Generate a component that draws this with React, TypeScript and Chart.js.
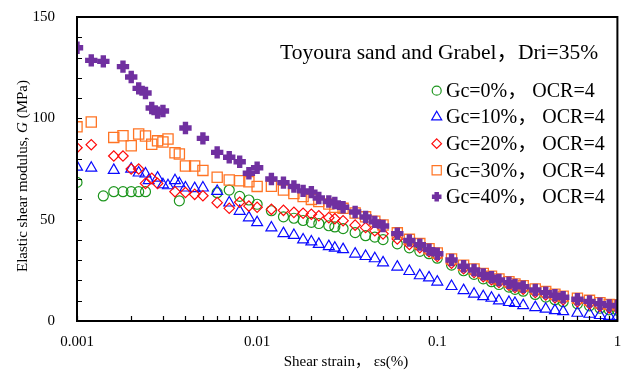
import { useEffect, useRef } from 'react';
import { Chart, registerables } from 'chart.js';

Chart.register(...registerables);

// Shear strain (%) and elastic shear modulus G (MPa) for each gravel content
const strainGc0 = [0.001, 0.0014, 0.0016, 0.0018, 0.002, 0.0022, 0.0024, 0.0037, 0.006, 0.007, 0.008, 0.009, 0.01, 0.012, 0.014, 0.016, 0.018, 0.02, 0.022, 0.025, 0.027, 0.03, 0.035, 0.04, 0.045, 0.05, 0.06, 0.07, 0.08, 0.09, 0.1, 0.12, 0.14, 0.16, 0.18, 0.2, 0.22, 0.25, 0.27, 0.3, 0.35, 0.4, 0.45, 0.5, 0.6, 0.7, 0.8, 0.9, 1.0];
const modulusGc0 = [68.4, 61.7, 63.8, 63.8, 63.8, 63.8, 63.8, 59.3, 63.3, 64.6, 61.5, 59.7, 57.6, 54.4, 51.4, 50.7, 49.6, 48.7, 48.1, 47.0, 46.4, 45.6, 43.6, 42.1, 41.4, 40.2, 38.1, 36.1, 34.4, 33.2, 31.0, 27.6, 24.8, 23.0, 20.8, 19.4, 18.0, 16.7, 15.6, 14.7, 13.1, 11.8, 10.5, 9.5, 8.5, 7.5, 6.3, 5.5, 5.3];

const strainGc10 = [0.001, 0.0012, 0.0016, 0.002, 0.0022, 0.0024, 0.0025, 0.0028, 0.003, 0.0032, 0.0035, 0.0037, 0.004, 0.0045, 0.005, 0.006, 0.007, 0.008, 0.009, 0.01, 0.012, 0.014, 0.016, 0.018, 0.02, 0.022, 0.025, 0.027, 0.03, 0.035, 0.04, 0.045, 0.05, 0.06, 0.07, 0.08, 0.09, 0.1, 0.12, 0.14, 0.16, 0.18, 0.2, 0.22, 0.25, 0.27, 0.3, 0.35, 0.4, 0.45, 0.5, 0.6, 0.7, 0.8, 0.9, 1.0];
const modulusGc10 = [76.0, 75.5, 74.4, 75.0, 73.1, 72.6, 69.3, 70.6, 67.3, 66.8, 69.3, 67.8, 65.7, 65.4, 65.7, 64.0, 58.3, 54.2, 51.0, 48.6, 46.0, 43.2, 42.3, 40.1, 39.1, 37.9, 36.8, 36.0, 35.3, 33.1, 31.9, 30.8, 28.8, 26.7, 24.5, 22.4, 21.4, 19.3, 17.1, 15.1, 13.3, 12.1, 11.3, 10.0, 9.2, 8.7, 7.7, 6.7, 5.9, 5.2, 4.7, 3.9, 3.4, 2.8, 2.4, 2.3];

const strainGc20 = [0.001, 0.0012, 0.0016, 0.0018, 0.002, 0.0022, 0.0024, 0.0026, 0.0028, 0.0035, 0.004, 0.0045, 0.005, 0.006, 0.007, 0.008, 0.009, 0.01, 0.012, 0.014, 0.016, 0.018, 0.02, 0.022, 0.025, 0.027, 0.03, 0.035, 0.04, 0.045, 0.05, 0.06, 0.07, 0.08, 0.09, 0.1, 0.12, 0.14, 0.16, 0.18, 0.2, 0.22, 0.25, 0.27, 0.3, 0.35, 0.4, 0.45, 0.5, 0.6, 0.7, 0.8, 0.9, 1.0];
const modulusGc20 = [85.5, 87.0, 81.4, 81.4, 75.0, 75.0, 67.9, 70.4, 67.9, 63.8, 63.4, 62.5, 61.8, 58.4, 55.6, 58.6, 56.7, 56.1, 55.1, 54.6, 53.6, 53.2, 52.7, 51.9, 51.0, 50.5, 49.5, 47.3, 46.1, 44.5, 43.0, 40.5, 37.8, 36.2, 34.2, 31.9, 28.5, 25.8, 24.0, 21.8, 20.4, 19.0, 17.7, 16.6, 15.7, 14.1, 12.8, 11.5, 10.5, 9.5, 8.5, 7.3, 6.5, 6.3];

const strainGc30 = [0.001, 0.0012, 0.0016, 0.0018, 0.002, 0.0022, 0.0024, 0.0026, 0.0028, 0.003, 0.0032, 0.0035, 0.0037, 0.004, 0.0045, 0.005, 0.006, 0.007, 0.008, 0.009, 0.01, 0.012, 0.014, 0.016, 0.018, 0.02, 0.022, 0.025, 0.027, 0.03, 0.035, 0.04, 0.045, 0.05, 0.06, 0.07, 0.08, 0.09, 0.1, 0.12, 0.14, 0.16, 0.18, 0.2, 0.22, 0.25, 0.27, 0.3, 0.35, 0.4, 0.45, 0.5, 0.6, 0.7, 0.8, 0.9, 1.0];
const modulusGc30 = [95.8, 98.2, 90.6, 91.4, 86.5, 92.3, 91.3, 87.2, 88.9, 88.3, 89.8, 83.0, 82.4, 76.5, 76.5, 74.3, 70.9, 69.6, 69.2, 68.7, 66.4, 66.5, 64.6, 62.9, 61.4, 60.0, 58.9, 57.7, 56.1, 55.6, 53.3, 51.4, 49.2, 47.4, 43.5, 40.3, 38.2, 35.7, 33.6, 30.6, 27.5, 25.7, 23.5, 22.1, 20.7, 19.4, 18.3, 17.4, 15.8, 14.5, 13.2, 12.2, 11.2, 10.2, 9.0, 8.2, 8.0];

const strainGc40 = [0.001, 0.0012, 0.0014, 0.0018, 0.002, 0.0022, 0.0024, 0.0026, 0.0028, 0.003, 0.004, 0.005, 0.006, 0.007, 0.008, 0.009, 0.01, 0.012, 0.014, 0.016, 0.018, 0.02, 0.022, 0.025, 0.027, 0.03, 0.035, 0.04, 0.045, 0.05, 0.06, 0.07, 0.08, 0.09, 0.1, 0.12, 0.14, 0.16, 0.18, 0.2, 0.22, 0.25, 0.27, 0.3, 0.35, 0.4, 0.45, 0.5, 0.6, 0.7, 0.8, 0.9, 1.0];
const modulusGc40 = [134.8, 128.6, 128.1, 125.5, 120.4, 114.8, 112.5, 105.1, 102.8, 103.6, 95.2, 90.1, 83.2, 80.8, 78.6, 72.9, 75.6, 70.1, 68.3, 66.4, 64.2, 63.6, 60.7, 59.0, 58.2, 56.1, 53.8, 51.3, 48.9, 46.9, 43.1, 39.7, 37.7, 35.2, 33.2, 30.1, 27.0, 25.2, 23.0, 21.6, 20.2, 18.9, 17.8, 16.9, 15.3, 14.0, 12.7, 11.7, 10.7, 9.7, 8.5, 7.7, 7.5];

const seriesLabels = ['Gc=0%， OCR=4', 'Gc=10%， OCR=4', 'Gc=20%， OCR=4', 'Gc=30%， OCR=4', 'Gc=40%， OCR=4'];
const seriesColors = ['#1e961e', '#0a0aff', '#ff0a0a', '#ff7424', '#7030a0'];
const chartTitle = 'Toyoura sand and Grabel，Dri=35%';
const xTitleMain = 'Shear strain， ';
const xTitleSymbol = 'εs(%)';
const yTitleMain = 'Elastic shear modulus, ';
const yTitleSymbol = 'G';
const yTitleUnit = ' (MPa)';
const xTickLabels = ['0.001', '0.01', '0.1', '1'];
const yTickLabels = ['0', '50', '100', '150'];

const SERIF = '"Liberation Serif", "Times New Roman", "Noto Sans CJK JP", serif';

type Style = 'circle' | 'triangle' | 'rectRot' | 'rect' | 'cross';
const seriesStyles: Style[] = ['circle', 'triangle', 'rectRot', 'rect', 'cross'];

function toPoints(xs: number[], ys: number[]) {
  return xs.map((x, i) => ({ x, y: ys[i] }));
}

function isDecade(v: number) {
  const l = Math.log10(v);
  return Math.abs(l - Math.round(l)) < 1e-6;
}

// Small marker used in the in-plot legend
function drawLegendMarker(ctx: CanvasRenderingContext2D, style: Style, x: number, y: number, color: string) {
  ctx.save();
  ctx.strokeStyle = color;
  ctx.fillStyle = color;
  ctx.lineWidth = 1.2;
  ctx.beginPath();
  if (style === 'circle') {
    ctx.arc(x, y, 4.5, 0, Math.PI * 2);
    ctx.stroke();
  } else if (style === 'triangle') {
    const r = 5.8;
    ctx.moveTo(x, y - r);
    ctx.lineTo(x + r * 0.866, y + r * 0.5);
    ctx.lineTo(x - r * 0.866, y + r * 0.5);
    ctx.closePath();
    ctx.stroke();
  } else if (style === 'rectRot') {
    const r = 4.8;
    ctx.moveTo(x, y - r);
    ctx.lineTo(x + r, y);
    ctx.lineTo(x, y + r);
    ctx.lineTo(x - r, y);
    ctx.closePath();
    ctx.stroke();
  } else if (style === 'rect') {
    ctx.rect(x - 4.6, y - 4.6, 9.2, 9.2);
    ctx.stroke();
  } else {
    ctx.lineWidth = 4.5;
    ctx.moveTo(x - 4.8, y);
    ctx.lineTo(x + 4.8, y);
    ctx.moveTo(x, y - 4.8);
    ctx.lineTo(x, y + 4.8);
    ctx.stroke();
  }
  ctx.restore();
}

const decorPlugin = {
  id: 'decor',
  afterDraw(chart: any) {
    const { ctx, chartArea: a, scales } = chart;
    const xs = scales.x;
    const ys = scales.y;
    ctx.save();

    // Frame around the plot
    ctx.strokeStyle = '#000';
    ctx.lineWidth = 2;
    ctx.strokeRect(a.left, a.top, a.right - a.left, a.bottom - a.top);

    // Inward tick marks
    ctx.lineWidth = 1.2;
    ctx.beginPath();
    ys.ticks.forEach((t: any) => {
      const py = Math.round(ys.getPixelForValue(t.value)) + 0.5;
      ctx.moveTo(a.left, py);
      ctx.lineTo(a.left + 5, py);
    });
    xs.ticks.forEach((t: any) => {
      const px = Math.round(xs.getPixelForValue(t.value)) + 0.5;
      ctx.moveTo(px, a.bottom);
      ctx.lineTo(px, a.bottom - 5);
    });
    ctx.stroke();

    ctx.fillStyle = '#000';
    ctx.textBaseline = 'middle';

    // X axis title
    ctx.font = `15px ${SERIF}`;
    const w1 = ctx.measureText(xTitleMain).width;
    const w2 = ctx.measureText(xTitleSymbol).width;
    const tx = 346 - (w1 + w2) / 2;
    ctx.textAlign = 'left';
    ctx.fillText(xTitleMain, tx, 362);
    ctx.fillText(xTitleSymbol, tx + w1, 362);

    // Y axis title (rotated, italic symbol)
    ctx.save();
    ctx.translate(23, 176);
    ctx.rotate(-Math.PI / 2);
    ctx.font = `15px ${SERIF}`;
    const a1 = ctx.measureText(yTitleMain).width;
    const a3 = ctx.measureText(yTitleUnit).width;
    ctx.font = `italic 15px ${SERIF}`;
    const a2 = ctx.measureText(yTitleSymbol).width;
    const sx = -(a1 + a2 + a3) / 2;
    ctx.font = `15px ${SERIF}`;
    ctx.fillText(yTitleMain, sx, 0);
    ctx.font = `italic 15px ${SERIF}`;
    ctx.fillText(yTitleSymbol, sx + a1, 0);
    ctx.font = `15px ${SERIF}`;
    ctx.fillText(yTitleUnit, sx + a1 + a2, 0);
    ctx.restore();

    // Caption inside the plot
    ctx.textBaseline = 'alphabetic';
    ctx.font = `21.5px ${SERIF}`;
    ctx.fillText(chartTitle, 280, 59);

    // Legend
    const rowY = [97, 123.3, 150, 176.5, 203];
    ctx.font = `20px ${SERIF}`;
    seriesLabels.forEach((label, i) => {
      drawLegendMarker(ctx, seriesStyles[i], 436.7, rowY[i] - 6.3, seriesColors[i]);
      ctx.fillStyle = '#000';
      ctx.fillText(label, 446, rowY[i]);
    });

    ctx.restore();
  },
};

export default function App() {
  const ref = useRef<HTMLCanvasElement>(null);

  useEffect(() => {
    const strains = [strainGc0, strainGc10, strainGc20, strainGc30, strainGc40];
    const moduli = [modulusGc0, modulusGc10, modulusGc20, modulusGc30, modulusGc40];
    const radii = [5, 6.3, 5.2, 7.2, 6.2];
    const widths = [1.2, 1.2, 1.2, 1.3, 5.4];

    const chart = new Chart(ref.current as HTMLCanvasElement, {
      type: 'scatter',
      data: {
        datasets: seriesLabels.map((label, i) => ({
          label,
          data: toPoints(strains[i], moduli[i]),
          pointStyle: seriesStyles[i],
          pointRadius: radii[i],
          pointBorderWidth: widths[i],
          borderColor: seriesColors[i],
          backgroundColor: 'rgba(0,0,0,0)',
          pointBackgroundColor: 'rgba(0,0,0,0)',
          pointBorderColor: seriesColors[i],
          showLine: false,
          order: 4 - i,
        })),
      },
      options: {
        responsive: false,
        animation: false,
        devicePixelRatio: 1,
        layout: { padding: { top: 17, right: 9, left: 0, bottom: 0 } },
        plugins: {
          legend: { display: false },
          tooltip: { enabled: false },
        },
        scales: {
          x: {
            type: 'logarithmic',
            min: 0.001,
            max: 1,
            grid: { display: false },
            border: { display: false },
            afterFit: (scale: any) => {
              scale.height = 53;
              scale.paddingLeft = 0;
              scale.paddingRight = 0;
            },
            ticks: {
              autoSkip: false,
              maxRotation: 0,
              padding: 4,
              color: '#000',
              font: { family: SERIF, size: 15 },
              callback: (v: any) => {
                const n = Number(v);
                if (!isDecade(n)) return '';
                return xTickLabels[Math.round(Math.log10(n)) + 3];
              },
            },
          },
          y: {
            type: 'linear',
            min: 0,
            max: 150,
            grid: { display: false },
            border: { display: false },
            afterFit: (scale: any) => {
              scale.width = 77;
              scale.paddingTop = 0;
              scale.paddingBottom = 0;
            },
            ticks: {
              stepSize: 10,
              autoSkip: false,
              padding: 14,
              color: '#000',
              font: { family: SERIF, size: 15 },
              callback: (v: any) => {
                const n = Number(v);
                return n % 50 === 0 ? yTickLabels[n / 50] : '';
              },
            },
          },
        },
      },
      plugins: [decorPlugin],
    });
    return () => chart.destroy();
  }, []);

  return (
    <div style={{ position: 'fixed', left: 0, top: 0, width: 629, height: 374, background: '#fff' }}>
      <canvas ref={ref} width={629} height={374} style={{ display: 'block' }} />
    </div>
  );
}
